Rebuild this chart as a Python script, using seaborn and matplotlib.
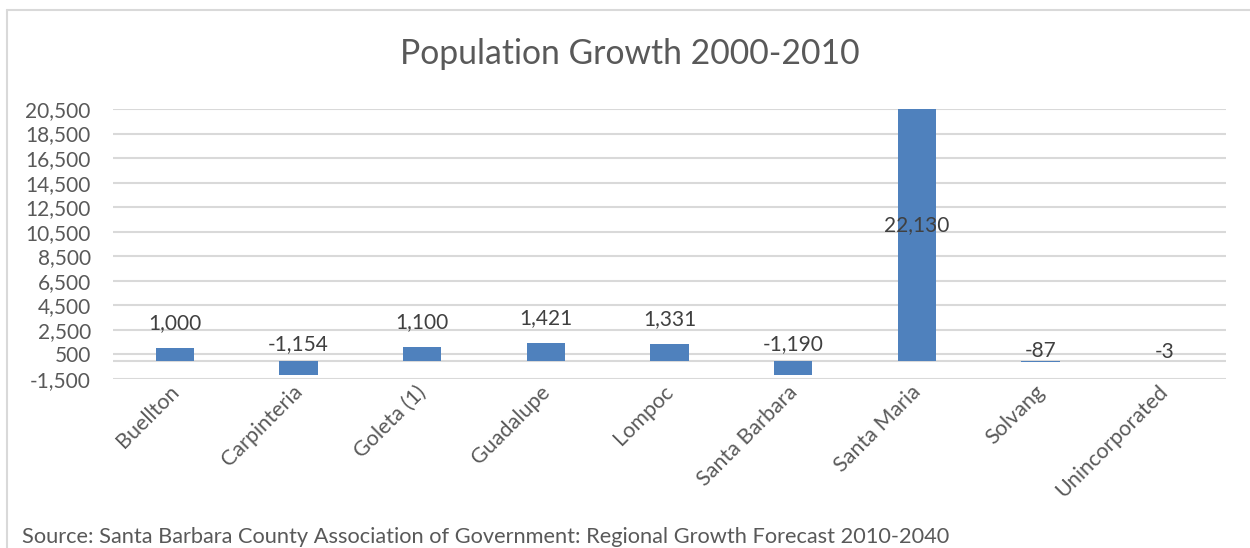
import matplotlib
matplotlib.use("Agg")
import matplotlib.pyplot as plt
from matplotlib.lines import Line2D
from matplotlib.transforms import ScaledTranslation
import seaborn as sns
import pandas as pd

# Population change by city, 2000-2010
cities = ["Buellton", "Carpinteria", "Goleta (1)", "Guadalupe", "Lompoc",
          "Santa Barbara", "Santa Maria", "Solvang", "Unincorporated"]
growth = [1000, -1154, 1100, 1421, 1331, -1190, 22130, -87, -3]

y_ticks = list(range(-1500, 20501, 2000))

title = "Population Growth 2000-2010"
source = ("Source: Santa Barbara County Association of Government: "
          "Regional Growth Forecast 2010-2040")

sns.set_theme(style="white")
plt.rcParams["font.family"] = ["Lato", "DejaVu Sans"]

W, H, DPI = 1250, 548, 100
fig = plt.figure(figsize=(W / DPI, H / DPI), dpi=DPI)
ax = fig.add_axes([113 / W, 1 - 379 / H, (1226 - 113) / W, (379 - 109) / H])

df = pd.DataFrame({"city": cities, "growth": growth})
sns.barplot(data=df, x="city", y="growth", color="#4F81BD", saturation=1,
            width=0.31, linewidth=0, edgecolor="none", ax=ax, zorder=3)

grid_c = "#D9D9D9"
ax.set_ylim(-1500, 20500)
ax.set_xlim(-0.5, len(cities) - 0.5)
ax.set_yticks(y_ticks)
ax.set_yticklabels([f"{t:,}" for t in y_ticks])
for t in y_ticks:
    ax.axhline(t, color=grid_c, lw=1.5, zorder=1)
ax.axhline(0, color=grid_c, lw=1.5, zorder=2)

for s in ax.spines.values():
    s.set_visible(False)
ax.set_xlabel("")
ax.set_ylabel("")
ax.tick_params(axis="y", length=0, pad=16, labelsize=15, labelcolor="#595959")
ax.tick_params(axis="x", length=0, pad=2, labelsize=15.5, labelcolor="#595959")
shift = ScaledTranslation(8 / DPI, 0, fig.dpi_scale_trans)
for lab in ax.get_xticklabels():
    lab.set_rotation(45)
    lab.set_ha("right")
    lab.set_transform(lab.get_transform() + shift)

# Value labels
label_c = "#404040"
y_top = ax.get_ylim()[1]
for i, v in enumerate(growth):
    txt = f"{v:,}"
    if v > y_top:
        ax.text(i, v / 2, txt, ha="center", va="center", fontsize=15,
                color=label_c, zorder=5)
    elif v >= 0:
        ax.annotate(txt, (i, v), xytext=(0, 18), textcoords="offset points",
                    ha="center", va="center", fontsize=15, color=label_c,
                    zorder=5)
    else:
        ax.annotate(txt, (i, -v / 2), xytext=(0, 6.5),
                    textcoords="offset points", ha="center", va="center",
                    fontsize=15, color=label_c, zorder=5)

fig.text(630 / W, 1 - 54 / H, title, ha="center", va="center", fontsize=24.3,
         color="#595959")
fig.text(22 / W, 1 - 537 / H, source, ha="left", va="center", fontsize=15.7,
         color="#595959")

# Chart frame
bx, by = 7 / W, 1 - 10 / H
fig.add_artist(Line2D([bx, bx], [0, by], transform=fig.transFigure,
                      color=grid_c, lw=1.5))
fig.add_artist(Line2D([bx, 1], [by, by], transform=fig.transFigure,
                      color=grid_c, lw=1.5))

fig.savefig("out.png", dpi=DPI, facecolor="white")
